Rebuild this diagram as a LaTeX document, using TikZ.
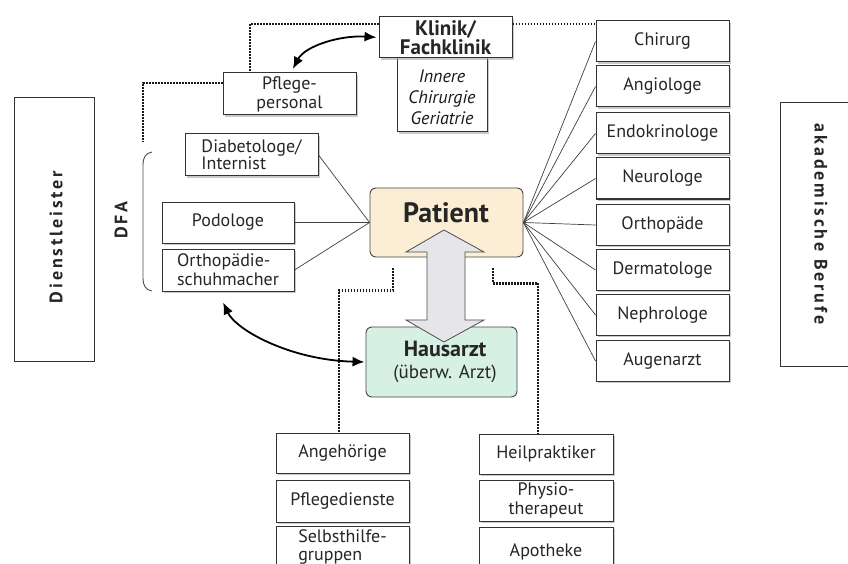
\documentclass[tikz,border=0pt]{standalone}
\usepackage{fontspec}
\setmainfont{PT Sans}
\newfontfamily\spacedfont[LetterSpace=16]{PT Sans}
\usetikzlibrary{arrows.meta,shadows}
\definecolor{txt}{HTML}{262626}
\definecolor{edge}{HTML}{333333}
\definecolor{patfill}{HTML}{FBEED5}
\definecolor{hausfill}{HTML}{D6F1E4}
\definecolor{arrfill}{HTML}{E6E6EA}
\tikzset{
  box/.style={draw=edge, line width=1pt, fill=white, text=txt, inner sep=0pt,
    font=\fontsize{18}{19}\selectfont, drop shadow={shadow xshift=1.6pt, shadow yshift=-1.6pt, fill=gray!70, opacity=0.6}},
  plainbox/.style={draw=edge, line width=0.9pt, fill=white, inner sep=0pt},
  center/.style={align=center},
  dotline/.style={line width=2.2pt, dash pattern=on 1.5pt off 1.5pt, draw=gray!20!black},
  spoke/.style={line width=0.7pt, draw=gray!50!black},
  curvedarrow/.style={line width=1.8pt, draw=black, {Latex[length=12pt,width=10pt]}-{Latex[length=12pt,width=10pt]}},
}
\begin{document}
\begin{tikzpicture}[x=1pt,y=-1pt]
\useasboundingbox (0,0) rectangle (848,564);
\fill[white] (0,0) rectangle (848,564);

% side category boxes
\node[plainbox, minimum width=80pt, minimum height=264pt] (dienst) at (54,229) {};
\node[rotate=90, text=txt, font=\spacedfont\bfseries\fontsize{18}{18}\selectfont] (dienstlabel) at (56,237) {Dienstleister};
\node[plainbox, minimum width=80pt, minimum height=264pt] (akad) at (820,234) {};
\node[rotate=-90, text=txt, font=\spacedfont\bfseries\fontsize{18}{18}\selectfont] (akadlabel) at (821,224) {akademische Berufe};
\node[rotate=90, text=txt, font=\spacedfont\bfseries\fontsize{18}{18}\selectfont] (dfa) at (121,220) {DFA};

% brace
\draw[line width=0.9pt, draw=gray!60!black] (152,152) .. controls (146,153) and (143,157) .. (143,165) -- (143,278) .. controls (143,286) and (146,290) .. (152,291);

% top group
\node[box, minimum width=90pt, minimum height=74pt, align=center,
  font=\itshape\fontsize{18}{21}\selectfont, text=gray!20!black] (innere) at (442,95) {\\[-4pt]Innere\\Chirurgie\\Geriatrie};
\node[box, minimum width=133pt, minimum height=41pt, center, font=\bfseries\fontsize{21}{19}\selectfont] (klinik) at (445.5,37.5) {Klinik/\\Fachklinik};
\node[box, minimum width=133pt, minimum height=42pt, center, font=\fontsize{18}{19}\selectfont] (pflege) at (289.5,94) {Pflege-\\personal};

% left group
\node[box, minimum width=133pt, minimum height=42pt, align=left, font=\fontsize{18}{17}\selectfont] (diab) at (251.5,155) {Diabetologe/\\Internist};
\node[box, minimum width=132pt, minimum height=41pt] (podo) at (228,222.5) {Podologe};
\node[box, minimum width=132pt, minimum height=42pt, align=left, font=\fontsize{18}{19}\selectfont] (ortho) at (228,270) {Orthopädie-\\schuhmacher};

% right column
\foreach \nm/\lab/\cy in {chir/Chirurg/41.5, angio/Angiologe/86.5, endo/Endokrinologe/133.5,
  neuro/Neurologe/178.5, orth/Orthopäde/225, derma/Dermatologe/270, nephro/Nephrologe/315, auge/Augenarzt/361}
  \node[box, minimum width=133pt, minimum height=41pt] (\nm) at (662.5,\cy) {\lab};

% bottom left column
\node[box, minimum width=133pt, minimum height=40pt] (ange) at (342.5,453.5) {Angehörige};
\node[box, minimum width=133pt, minimum height=42pt] (pfleged) at (342.5,501) {Pflegedienste};
\node[box, minimum width=133pt, minimum height=42pt, align=left, font=\fontsize{18}{18}\selectfont] (selbst) at (342.5,547) {Selbsthilfe-\\gruppen};

% bottom right column
\node[box, minimum width=134pt, minimum height=40pt] (heil) at (546,454) {Heilpraktiker};
\node[box, minimum width=134pt, minimum height=41pt, center, font=\fontsize{18}{19}\selectfont] (physio) at (546,500.5) {Physio-\\therapeut};
\node[box, minimum width=134pt, minimum height=50pt] (apo) at (546,552) {Apotheke};

% centre nodes
\node[draw=gray!55!black, line width=0.9pt, fill=patfill, rounded corners=6pt, minimum width=153pt, minimum height=69pt, inner sep=0pt] (patient) at (446.5,222.5) {};
\node[text=black!85, font=\bfseries\fontsize{28}{28}\selectfont] (patientlabel) at (446,213) {Patient};
\node[draw=gray!55!black, line width=0.9pt, fill=hausfill, rounded corners=6pt, minimum width=151pt, minimum height=70pt, inner sep=0pt] (haus) at (441.5,362) {};
\node[text=txt, align=center, font=\fontsize{19}{22}\selectfont] (hauslabel) at (445,362) {\textbf{\fontsize{22}{22}\selectfont Hausarzt}\\(überw. Arzt)};

% spokes
\foreach \nm in {chir,angio,endo,neuro,orth,derma,nephro,auge}
  \draw[spoke] (patient.east) -- (\nm.west);
\foreach \nm in {diab,podo,ortho}
  \draw[spoke] (patient.west) -- (\nm.east);

% big double arrow
\draw[draw=gray!60!black, line width=0.8pt, fill=arrfill]
  (444,230) -- (484,252) -- (465,252) -- (465,320) -- (484,320) -- (444,342)
  -- (406,320) -- (427,320) -- (427,252) -- (406,252) -- cycle;

% dotted connectors
\coordinate (dfatop) at (143,142);
\draw[dotline] ([yshift=13.5pt]klinik.west) -| ([xshift=-39.5pt]pflege.north);
\draw[dotline] ([yshift=13.5pt]klinik.east) -- ([yshift=13.5pt]klinik.east -| chir.west);
\draw[dotline] ([yshift=11pt]pflege.west) -| (dfatop);
\draw[dotline, shorten <=11pt] ([xshift=-53.5pt]patient.south) -- ++(0,33) -| ([xshift=-3.5pt]ange.north);
\draw[dotline, shorten <=11pt] ([xshift=46.5pt]patient.south) -- ++(0,26) -| ([xshift=-8pt]heil.north);

% curved arrows
\draw[curvedarrow, shorten <=4pt, shorten >=2pt] ([xshift=1.5pt]pflege.north) .. controls (305,46) and (340,35) .. (klinik.west);
\draw[curvedarrow, shorten <=12pt, shorten >=1pt] ([xshift=-10pt]ortho.south) .. controls (236,330) and (290,360) .. (haus.west);
\end{tikzpicture}
\end{document}
